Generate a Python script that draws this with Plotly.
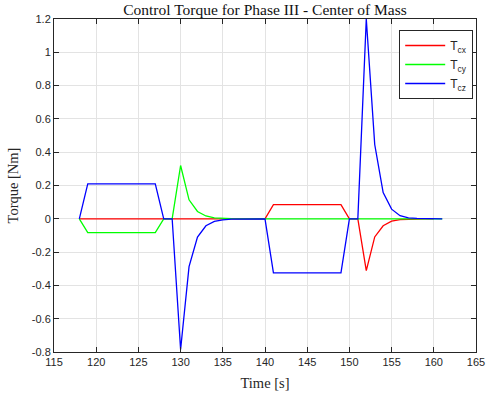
import plotly.graph_objects as go

time = list(range(118, 162))

t_cx = ([0.0] * 23 +                       # 118..140
        [0.085] * 9 +                      # 141..149
        [0.0, 0.0, -0.311, -0.109, -0.042, -0.014, -0.005, -0.002, -0.001, 0.0, 0.0])  # 150..161

t_cy = ([0.0] + [-0.083] * 9 +             # 118, 119..127
        [0.0, 0.0, 0.32, 0.114, 0.044, 0.017, 0.006, 0.002, 0.001, 0.0, 0.0, 0.0, 0.0] +  # 128..140
        [0.0] * 21)                        # 141..161

t_cz = ([0.0] + [0.21] * 9 +               # 118, 119..127
        [0.0, 0.0, -0.785, -0.287, -0.110, -0.042, -0.016, -0.006, -0.002, -0.001, 0.0, 0.0, 0.0] +  # 128..140
        [-0.325] * 9 +                     # 141..149
        [0.0, 0.0, 1.2, 0.446, 0.158, 0.058, 0.019, 0.006, 0.002, 0.001, 0.0, 0.0])  # 150..161

series = [("T<sub>cx</sub>", t_cx, "#ff0000"),
          ("T<sub>cy</sub>", t_cy, "#00ff00"),
          ("T<sub>cz</sub>", t_cz, "#0000ff")]

x_ticks = list(range(115, 166, 5))
y_ticks = [-0.8, -0.6, -0.4, -0.2, 0, 0.2, 0.4, 0.6, 0.8, 1, 1.2]
y_tick_text = ["-0.8", "-0.6", "-0.4", "-0.2", "0", "0.2", "0.4", "0.6", "0.8", "1", "1.2"]

fig = go.Figure()
for name, vals, color in series:
    fig.add_trace(go.Scatter(x=time, y=vals, mode="lines", name=name,
                             line=dict(color=color, width=1.3)))

axis_common = dict(showline=True, linecolor="#262626", linewidth=1, mirror="ticks",
                   ticks="inside", ticklen=5, tickcolor="#262626", automargin=False,
                   showgrid=True, gridcolor="#e3e3e3", gridwidth=1, zeroline=False,
                   tickfont=dict(family="Liberation Sans, Arial, sans-serif", size=11, color="#262626"))

fig.update_layout(
    width=486, height=394,
    margin=dict(l=54, r=10, t=19, b=42, autoexpand=False),
    paper_bgcolor="white", plot_bgcolor="white",
    title=dict(text="Control Torque for Phase III - Center of Mass",
               x=0.5, xanchor="center", xref="paper", y=0.975, yanchor="middle",
               font=dict(family="Liberation Serif, Times New Roman, serif", size=15.5, color="#111111")),
    xaxis=dict(range=[115, 165], tickvals=x_ticks,
               title=dict(text="Time [s]", standoff=10,
                          font=dict(family="Liberation Serif, serif", size=14.5, color="#262626")),
               **axis_common),
    yaxis=dict(range=[-0.8, 1.2], tickvals=y_ticks, ticktext=y_tick_text,
               title=dict(text="Torque [Nm]", standoff=9,
                          font=dict(family="Liberation Serif, serif", size=14.5, color="#262626")),
               **axis_common),
    legend=dict(x=0.818, y=0.967, xanchor="left", yanchor="top",
                bgcolor="white", bordercolor="#262626", borderwidth=1,
                font=dict(family="Liberation Sans, Arial, sans-serif", size=12, color="#262626"),
                itemwidth=40, tracegroupgap=0),
    showlegend=True,
)

fig.write_html("out.html", config={"displayModeBar": False},
               post_script="document.body.style.margin='0';")
